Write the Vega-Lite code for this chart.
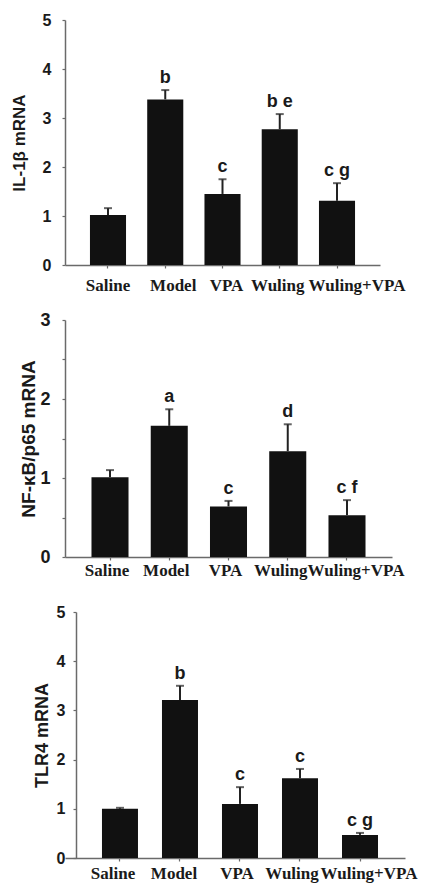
{
  "$schema": "https://vega.github.io/schema/vega-lite/v6.json",
  "padding": {"left": 10, "top": 12, "right": 5, "bottom": 2},
  "autosize": {"type": "pad"},
  "bounds": "flush",
  "spacing": 55,
  "background": "white",
  "config": {
    "view": {"stroke": null},
    "axis": {"grid": false, "domainColor": "#6a6a6a", "tickColor": "#6a6a6a", "domainWidth": 1.5, "tickWidth": 1.2, "tickSize": 3, "labelColor": "#1a1a1a", "titleColor": "#1a1a1a"},
    "axisX": {"labelFont": "Liberation Serif", "labelFontWeight": "bold", "labelFontSize": 17, "labelAngle": 0, "labelOverlap": false, "labelBound": false, "title": null},
    "axisY": {"labelFont": "Liberation Sans", "labelFontWeight": "bold", "titleFont": "Liberation Sans", "titleFontWeight": "bold", "labelOverlap": false, "values": [0, 0.5, 1, 1.5, 2, 2.5, 3, 3.5, 4, 4.5, 5], "labelExpr": "datum.value % 1 === 0 ? format(datum.value, 'd') : ''"}
  },
  "datasets": {
    "il1b": [
      {"group": "Saline", "mean": 1.02, "upper": 1.16, "sig": ""},
      {"group": "Model", "mean": 3.38, "upper": 3.57, "sig": "b"},
      {"group": "VPA", "mean": 1.45, "upper": 1.75, "sig": "c"},
      {"group": "Wuling", "mean": 2.77, "upper": 3.08, "sig": "b e"},
      {"group": "Wuling+VPA", "mean": 1.31, "upper": 1.67, "sig": "c g"}
    ],
    "nfkb": [
      {"group": "Saline", "mean": 1.01, "upper": 1.10, "sig": ""},
      {"group": "Model", "mean": 1.66, "upper": 1.87, "sig": "a"},
      {"group": "VPA", "mean": 0.64, "upper": 0.71, "sig": "c"},
      {"group": "Wuling", "mean": 1.34, "upper": 1.68, "sig": "d"},
      {"group": "Wuling+VPA", "mean": 0.53, "upper": 0.72, "sig": "c f"}
    ],
    "tlr4": [
      {"group": "Saline", "mean": 1.00, "upper": 1.02, "sig": ""},
      {"group": "Model", "mean": 3.21, "upper": 3.50, "sig": "b"},
      {"group": "VPA", "mean": 1.10, "upper": 1.44, "sig": "c"},
      {"group": "Wuling", "mean": 1.62, "upper": 1.81, "sig": "c"},
      {"group": "Wuling+VPA", "mean": 0.47, "upper": 0.51, "sig": "c g"}
    ]
  },
  "vconcat": [
    {
      "width": 315, "height": 245,
      "data": {"name": "il1b"},
      "encoding": {
        "x": {"field": "group", "type": "nominal", "sort": null, "scale": {"paddingInner": 0.37, "paddingOuter": 0.436}, "axis": {"labelPadding": 9, "labelOffset": {"condition": [{"test": "datum.value === 'Model'", "value": 8}, {"test": "datum.value === 'VPA'", "value": 4}, {"test": "datum.value === 'Wuling'", "value": -2}, {"test": "datum.value === 'Wuling+VPA'", "value": 20}], "value": 0}}},
        "y": {"field": "mean", "type": "quantitative", "title": "IL-1β mRNA", "scale": {"domain": [0, 5], "nice": false}, "axis": {"labelFontSize": 16, "labelPadding": 11, "titleFontSize": 17, "titlePadding": 14}}
      },
      "layer": [
        {"mark": {"type": "bar", "color": "#111111"}},
        {"mark": {"type": "rule", "color": "#222222", "strokeWidth": 2}, "encoding": {"y2": {"field": "upper"}}},
        {"mark": {"type": "tick", "color": "#222222", "thickness": 2, "size": 8}, "encoding": {"y": {"field": "upper", "type": "quantitative", "title": "IL-1β mRNA"}}},
        {"mark": {"type": "text", "dy": -7, "baseline": "alphabetic", "fontSize": 18, "fontWeight": "bold", "font": "Liberation Sans", "color": "#1a1a1a"}, "encoding": {"y": {"field": "upper", "type": "quantitative", "title": "IL-1β mRNA"}, "text": {"field": "sig"}}}
      ]
    },
    {
      "width": 327, "height": 237,
      "data": {"name": "nfkb"},
      "encoding": {
        "x": {"field": "group", "type": "nominal", "sort": null, "scale": {"paddingInner": 0.375, "paddingOuter": 0.447}, "axis": {"labelPadding": 2, "labelOffset": {"condition": [{"test": "datum.value === 'Saline'", "value": -3}, {"test": "datum.value === 'Model'", "value": -3}, {"test": "datum.value === 'VPA'", "value": -3}, {"test": "datum.value === 'Wuling'", "value": -7}, {"test": "datum.value === 'Wuling+VPA'", "value": 9}], "value": 0}}},
        "y": {"field": "mean", "type": "quantitative", "title": "NF-κB/p65 mRNA", "scale": {"domain": [0, 3], "nice": false}, "axis": {"values": [0, 0.5, 1, 1.5, 2, 2.5, 3], "labelFontSize": 18, "labelPadding": 12, "titleFontSize": 19, "titlePadding": 1}}
      },
      "layer": [
        {"mark": {"type": "bar", "color": "#111111"}},
        {"mark": {"type": "rule", "color": "#222222", "strokeWidth": 2}, "encoding": {"y2": {"field": "upper"}}},
        {"mark": {"type": "tick", "color": "#222222", "thickness": 2, "size": 8}, "encoding": {"y": {"field": "upper", "type": "quantitative", "title": "NF-κB/p65 mRNA"}}},
        {"mark": {"type": "text", "dy": -7, "baseline": "alphabetic", "fontSize": 18, "fontWeight": "bold", "font": "Liberation Sans", "color": "#1a1a1a"}, "encoding": {"y": {"field": "upper", "type": "quantitative", "title": "NF-κB/p65 mRNA"}, "text": {"field": "sig"}}}
      ]
    },
    {
      "width": 340, "height": 246,
      "data": {"name": "tlr4"},
      "encoding": {
        "x": {"field": "group", "type": "nominal", "sort": null, "scale": {"paddingInner": 0.4, "paddingOuter": 0.533, "align": 0.578}, "axis": {"labelPadding": 4, "labelOffset": {"condition": [{"test": "datum.value === 'Saline'", "value": -7}, {"test": "datum.value === 'Model'", "value": -6}, {"test": "datum.value === 'VPA'", "value": -3}, {"test": "datum.value === 'Wuling'", "value": -8}, {"test": "datum.value === 'Wuling+VPA'", "value": 9}], "value": 0}}},
        "y": {"field": "mean", "type": "quantitative", "title": "TLR4 mRNA", "scale": {"domain": [0, 5], "nice": false}, "axis": {"offset": -11, "labelFontSize": 16, "labelPadding": 8, "titleFontSize": 18, "titlePadding": 5}}
      },
      "layer": [
        {"mark": {"type": "bar", "color": "#111111"}},
        {"mark": {"type": "rule", "color": "#222222", "strokeWidth": 2}, "encoding": {"y2": {"field": "upper"}}},
        {"mark": {"type": "tick", "color": "#222222", "thickness": 2, "size": 8}, "encoding": {"y": {"field": "upper", "type": "quantitative", "title": "TLR4 mRNA"}}},
        {"mark": {"type": "text", "dy": -7, "baseline": "alphabetic", "fontSize": 18, "fontWeight": "bold", "font": "Liberation Sans", "color": "#1a1a1a"}, "encoding": {"y": {"field": "upper", "type": "quantitative", "title": "TLR4 mRNA"}, "text": {"field": "sig"}}}
      ]
    }
  ]
}
